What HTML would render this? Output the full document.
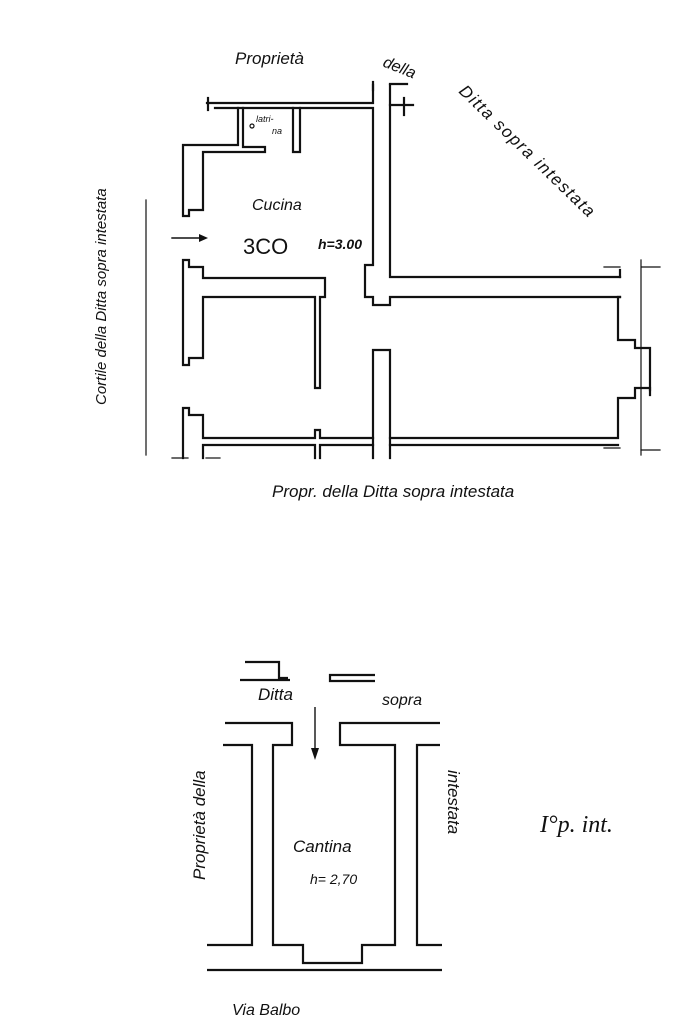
<!DOCTYPE html>
<html><head><meta charset="utf-8"><style>
html,body{margin:0;padding:0;background:#fff;}
svg{display:block}
text{font-family:"Liberation Sans",sans-serif;font-style:italic;fill:#111;}
</style></head><body>
<svg width="683" height="1023" viewBox="0 0 683 1023" xmlns="http://www.w3.org/2000/svg">
<g fill="none" stroke="#111" stroke-width="2.2" stroke-linecap="square">
<polyline points="207,103 373,103 373,85"/>
<polyline points="215,108 373,108 373,265 365,265 365,297 373,297 373,305 390,305 390,297 620,297"/>
<polyline points="390,85 390,277 620,277"/>
<line x1="390" y1="84" x2="407" y2="84"/>
<line x1="390" y1="105" x2="413" y2="105"/>
<line x1="404" y1="98" x2="404" y2="115"/>
<line x1="208" y1="98" x2="208" y2="110"/>
<line x1="373" y1="82" x2="373" y2="90"/>
<polyline points="238,108 238,145 183,145 183,216 189,216 189,210 203,210 203,152 265,152 265,147 243,147 243,108"/>
<polyline points="293,108 293,152 300,152 300,108"/>
<circle cx="252" cy="126" r="2" stroke-width="1.2"/>
<polyline points="183,260 183,365 189,365 189,358 203,358 203,297 315,297 315,388 320,388 320,297 325,297 325,278 203,278 203,267 189,267 189,260 183,260"/>
<polyline points="183,458 183,408 189,408 189,415 203,415 203,438 315,438 315,430 320,430 320,438 373,438"/>
<polyline points="203,458 203,445 315,445 315,458"/>
<polyline points="320,458 320,445 373,445"/>
<polyline points="373,458 373,350 390,350 390,458"/>
<polyline points="390,438 618,438 618,398 635,398 635,388 650,388 650,395"/>
<polyline points="390,445 618,445"/>
<polyline points="620,277 620,270"/>
<polyline points="620,297 618,297 618,340 635,340 635,348 650,348 650,390"/>
<line x1="604" y1="267" x2="620" y2="267" stroke-width="1.2"/>
<line x1="642" y1="267" x2="660" y2="267" stroke-width="1.2"/>
<line x1="641" y1="260" x2="641" y2="455" stroke-width="1.2"/>
<line x1="641" y1="450" x2="660" y2="450" stroke-width="1.2"/>
<line x1="604" y1="448" x2="620" y2="448" stroke-width="1.2"/>
<line x1="172" y1="458" x2="188" y2="458" stroke-width="1.2"/>
<line x1="206" y1="458" x2="220" y2="458" stroke-width="1.2"/>
<line x1="146" y1="200" x2="146" y2="455" stroke-width="1.2"/>
<line x1="172" y1="238" x2="205" y2="238" stroke-width="1.4"/>
<polygon points="208,238 199,234 199,242" fill="#111" stroke="none"/>
</g>
<g fill="none" stroke="#111" stroke-width="2.2">
<polyline points="245,662 279,662 279,678 288,678"/>
<line x1="240" y1="680" x2="290" y2="680"/>
<polyline points="375,675 330,675 330,681 375,681"/>
<polyline points="225,723 292,723 292,745 273,745 273,945 303,945 303,963 362,963 362,945 395,945 395,745 340,745 340,723 440,723"/>
<polyline points="223,745 252,745 252,945 207,945"/>
<polyline points="440,745 417,745 417,945 442,945"/>
<line x1="207" y1="970" x2="442" y2="970"/>
<line x1="315" y1="707" x2="315" y2="752" stroke-width="1.4"/>
<polygon points="315,760 311,748 319,748" fill="#111" stroke="none"/>
</g>
<text x="235" y="64" font-size="17">Propriet&#224;</text>
<text x="382" y="66" font-size="16" transform="rotate(22 382 66)">della</text>
<text x="458" y="92" font-size="17" letter-spacing="1.5" transform="rotate(44 458 92)">Ditta   sopra   intestata</text>
<text x="106" y="405" font-size="15" transform="rotate(-90 106 405)">Cortile della Ditta sopra intestata</text>
<text x="272" y="497" font-size="17">Propr. della  Ditta sopra intestata</text>
<text x="252" y="210" font-size="16">Cucina</text>
<text x="256" y="122" font-size="9">latri-</text>
<text x="272" y="134" font-size="9">na</text>
<text x="243" y="254" font-size="22" fill="#777" style="font-style:normal;font-weight:100" stroke="none">3CO</text>
<text x="318" y="249" font-size="14" font-weight="bold">h=3.00</text>
<text x="258" y="700" font-size="17">Ditta</text>
<text x="382" y="705" font-size="16">sopra</text>
<text x="205" y="880" font-size="17" transform="rotate(-90 205 880)">Propriet&#224;   della</text>
<text x="448" y="770" font-size="17" transform="rotate(90 448 770)">intestata</text>
<text x="293" y="852" font-size="17">Cantina</text>
<text x="310" y="884" font-size="14">h= 2,70</text>
<text x="540" y="832" font-size="24" style="font-family:'Liberation Serif',serif">I°p. int.</text>
<text x="232" y="1015" font-size="16">Via  Balbo</text>
</svg>
</body></html>
